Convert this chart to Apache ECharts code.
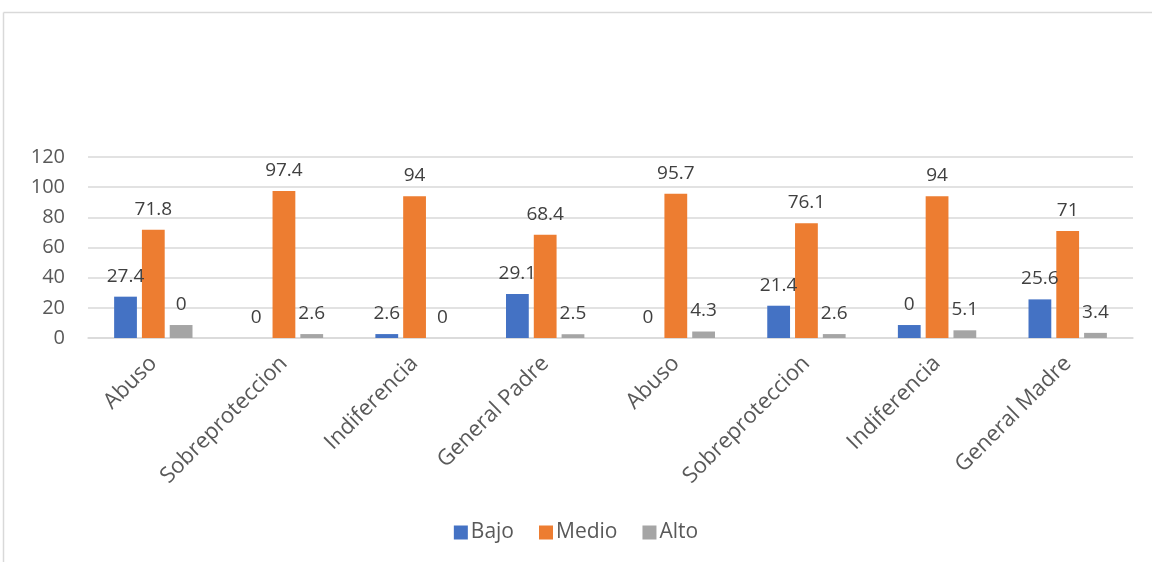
<!DOCTYPE html>
<html>
<head>
<meta charset="utf-8">
<script src="https://cdn.jsdelivr.net/npm/echarts@6/dist/echarts.min.js"></script>
<style>
html,body{margin:0;padding:0;background:#fff;}
#c{width:1152px;height:562px;}
</style>
</head>
<body>
<div id="c"></div>
<script>
const categories = ["Abuso","Sobreproteccion","Indiferencia","General Padre","Abuso","Sobreproteccion","Indiferencia","General Madre"];
const seriesNames = ["Bajo","Medio","Alto"];
// bar heights as drawn
const bajo  = [27.4, 0, 2.6, 29.1, 0, 21.4, 8.6, 25.6];
const medio = [71.8, 97.4, 94, 68.4, 95.7, 76.1, 94, 71];
const alto  = [8.6, 2.6, 0, 2.5, 4.3, 2.6, 5.1, 3.4];
// data label texts as printed
const bajoLabels  = ["27.4","0","2.6","29.1","0","21.4","0","25.6"];
const medioLabels = ["71.8","97.4","94","68.4","95.7","76.1","94","71"];
const altoLabels  = ["0","2.6","0","2.5","4.3","2.6","5.1","3.4"];
const yTicks = {min:0, max:120, interval:20};

const colors = ["#4472C4","#ED7D31","#A5A5A5"];
const FONT = "'Open Sans', 'Noto Sans', sans-serif";

function mk(name, vals, labels, color){
  return {
    name: name, type: 'bar', data: vals,
    barGap: '22%', barCategoryGap: '40%',
    itemStyle: {color: color},
    label: {
      show: true, position: 'top', distance: 11,
      fontFamily: FONT, fontSize: 19, color: '#404040',
      formatter: p => labels[p.dataIndex]
    }
  };
}

const chart = echarts.init(document.getElementById('c'), null, {renderer:'canvas'});
chart.setOption({
  animation: false,
  backgroundColor: '#ffffff',
  textStyle: {fontFamily: FONT},
  graphic: [
    {type:'line', shape:{x1:3.5,y1:12.5,x2:1152,y2:12.5}, style:{stroke:'#d9d9d9', lineWidth:1.5}},
    {type:'line', shape:{x1:3.5,y1:12.5,x2:3.5,y2:562}, style:{stroke:'#d9d9d9', lineWidth:1.5}}
  ],
  grid: {left: 88, right: 19, top: 157, bottom: 224, containLabel: false},
  legend: {
    data: seriesNames, bottom: 14, left: 'center',
    itemWidth: 14, itemHeight: 14, itemGap: 25,
    icon: 'rect',
    textStyle: {fontFamily: FONT, fontSize: 21, color: '#595959', padding:[0,0,0,-2]}
  },
  xAxis: {
    type: 'category', data: categories,
    axisLine: {show: true, lineStyle: {color: '#d9d9d9', width: 1.5}},
    axisTick: {show: false},
    axisLabel: {rotate: 45, interval: 0, margin: 22, fontFamily: FONT, fontSize: 22, color: '#595959'}
  },
  yAxis: {
    type: 'value', min: yTicks.min, max: yTicks.max, interval: yTicks.interval,
    axisLine: {show: false}, axisTick: {show: false},
    axisLabel: {margin: 23, fontFamily: FONT, fontSize: 20, color: '#595959'},
    splitLine: {lineStyle: {color: '#d9d9d9', width: 1.5}}
  },
  series: [
    mk("Bajo", bajo, bajoLabels, colors[0]),
    mk("Medio", medio, medioLabels, colors[1]),
    mk("Alto", alto, altoLabels, colors[2])
  ]
});
</script>
</body>
</html>
